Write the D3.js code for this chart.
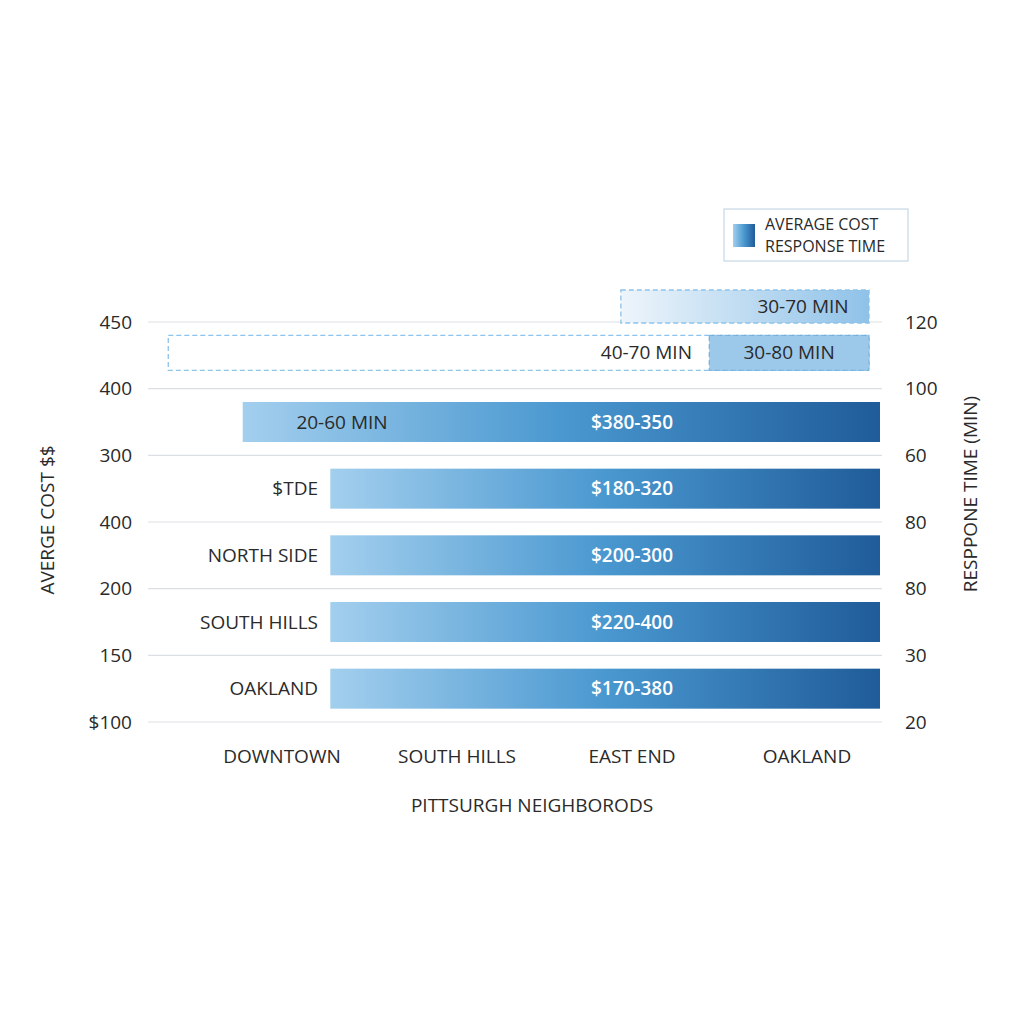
<!DOCTYPE html>
<html lang="en">
<head>
<meta charset="UTF-8">
<title>Pittsburgh Neighborhoods</title>
<script src="https://d3js.org/d3.v7.min.js"></script>
<style>
  body { margin: 0; background: #fff; }
  text { font-family: 'Open Sans', sans-serif; fill: #2a2a2a; }
</style>
</head>
<body>
<svg width="1024" height="1024"></svg>
<script>
// tick labels (as printed, top to bottom)
const leftTicks = ["450", "400", "300", "400", "200", "150", "$100"];
const rightTicks = ["120", "100", "60", "80", "80", "30", "20"];
const xCategories = ["DOWNTOWN", "SOUTH HILLS", "EAST END", "OAKLAND"];

// bars: row index (0 = top dashed row), start/end in % of plot width
const rows = [0, 1, 2, 3, 4, 5, 6];
const rowStart = [64.5, 2.5, 12.7, 24.7, 24.7, 24.7, 24.7];
const rowEnd = [98.5, 98.5, 100, 100, 100, 100, 100];
const rowLabels = ["", "40-70 MIN", "20-60 MIN", "$TDE", "NORTH SIDE", "SOUTH HILLS", "OAKLAND"];
const rowValues = ["30-70 MIN", "", "$380-350", "$180-320", "$200-300", "$220-400", "$170-380"];
// inner highlighted segment of row 1
const segStart = 76.6, segEnd = 98.5, segLabel = "30-80 MIN";

const svg = d3.select("svg");
const x = d3.scaleLinear().domain([0, 100]).range([150, 880]);
const grid = d3.scaleLinear().domain([0, 6]).range([322, 722]);
const y = d3.scaleBand().domain(rows.slice(1)).range([322, 722]).paddingInner(0.4).paddingOuter(0.2);
const xBand = d3.scalePoint().domain(xCategories).range([282, 807]);

const defs = svg.append("defs");
const g1 = defs.append("linearGradient").attr("id", "bar");
g1.append("stop").attr("offset", "0%").attr("stop-color", "#a3cfee");
g1.append("stop").attr("offset", "50%").attr("stop-color", "#4a98d0");
g1.append("stop").attr("offset", "100%").attr("stop-color", "#1f5c99");
const g2 = defs.append("linearGradient").attr("id", "light");
g2.append("stop").attr("offset", "0%").attr("stop-color", "#eef5fb");
g2.append("stop").attr("offset", "100%").attr("stop-color", "#8fc2e8");

// gridlines
svg.append("g").selectAll("line").data(d3.range(7)).join("line")
  .attr("x1", 148).attr("x2", 882)
  .attr("y1", d => grid(d)).attr("y2", d => grid(d))
  .attr("stroke", "#dcdfe3").attr("stroke-width", 1.2);

svg.append("g").selectAll("text").data(leftTicks).join("text")
  .attr("x", 132).attr("y", (d, i) => grid(i)).attr("dy", "0.35em")
  .attr("text-anchor", "end").attr("font-size", 19).text(d => d);
svg.append("g").selectAll("text").data(rightTicks).join("text")
  .attr("x", 905).attr("y", (d, i) => grid(i)).attr("dy", "0.35em")
  .attr("font-size", 19).text(d => d);

const rowY = r => r === 0 ? 290 : y(r);
const rowH = r => r === 0 ? 33 : (r === 1 ? 35 : y.bandwidth());

// bars
svg.append("g").selectAll("rect").data(rows).join("rect")
  .attr("x", r => x(rowStart[r])).attr("width", r => x(rowEnd[r]) - x(rowStart[r]))
  .attr("y", rowY).attr("height", rowH)
  .attr("fill", r => r === 0 ? "url(#light)" : r === 1 ? "#fff" : "url(#bar)")
  .attr("stroke", r => r < 2 ? "#8cc3ea" : "none")
  .attr("stroke-dasharray", "5,3").attr("stroke-width", 1.3);

svg.append("rect")
  .attr("x", x(segStart)).attr("width", x(segEnd) - x(segStart))
  .attr("y", rowY(1)).attr("height", rowH(1))
  .attr("fill", "#9cc9ea").attr("stroke", "#6aaad8")
  .attr("stroke-dasharray", "5,3");
svg.append("text").attr("x", (x(segStart) + x(segEnd)) / 2).attr("y", rowY(1) + rowH(1) / 2)
  .attr("dy", "0.35em").attr("text-anchor", "middle").attr("font-size", 19).text(segLabel);

// labels
svg.append("g").selectAll("text").data(rows).join("text")
  .attr("x", r => r === 1 ? 692 : r === 2 ? 342 : 318)
  .attr("y", r => rowY(r) + rowH(r) / 2).attr("dy", "0.35em")
  .attr("text-anchor", r => r === 2 ? "middle" : "end")
  .attr("font-size", 19).text(r => rowLabels[r]);
svg.append("g").selectAll("text").data(rows).join("text")
  .attr("x", r => r === 0 ? 803 : 632)
  .attr("y", r => rowY(r) + rowH(r) / 2).attr("dy", "0.35em")
  .attr("text-anchor", "middle").attr("font-size", 19)
  .attr("font-weight", r => r === 0 ? 400 : 600)
  .style("fill", r => r === 0 ? "#2a2a2a" : "#fff")
  .text(r => rowValues[r]);

// x categories
svg.append("g").selectAll("text").data(xCategories).join("text")
  .attr("x", d => xBand(d)).attr("y", 756).attr("dy", "0.35em")
  .attr("text-anchor", "middle").attr("font-size", 19).text(d => d);

svg.append("text").attr("x", 532).attr("y", 805).attr("dy", "0.35em")
  .attr("text-anchor", "middle").attr("font-size", 19).text("PITTSURGH NEIGHBORODS");
svg.append("text").attr("transform", "translate(47,520) rotate(-90)").attr("dy", "0.35em")
  .attr("text-anchor", "middle").attr("font-size", 19).text("AVERGE COST $$");
svg.append("text").attr("transform", "translate(970,494) rotate(-90)").attr("dy", "0.35em")
  .attr("text-anchor", "middle").attr("font-size", 19).text("RESPPONE TIME (MIN)");

// legend
const lg = svg.append("g");
lg.append("rect").attr("x", 724).attr("y", 209).attr("width", 184).attr("height", 52)
  .attr("fill", "#fff").attr("stroke", "#b9cfe0");
lg.append("rect").attr("x", 733).attr("y", 224).attr("width", 22).attr("height", 23).attr("fill", "url(#bar)");
lg.append("text").attr("x", 765).attr("y", 224).attr("dy", "0.35em").attr("font-size", 16).text("AVERAGE COST");
lg.append("text").attr("x", 765).attr("y", 246).attr("dy", "0.35em").attr("font-size", 16).text("RESPONSE TIME");
</script>
</body>
</html>
